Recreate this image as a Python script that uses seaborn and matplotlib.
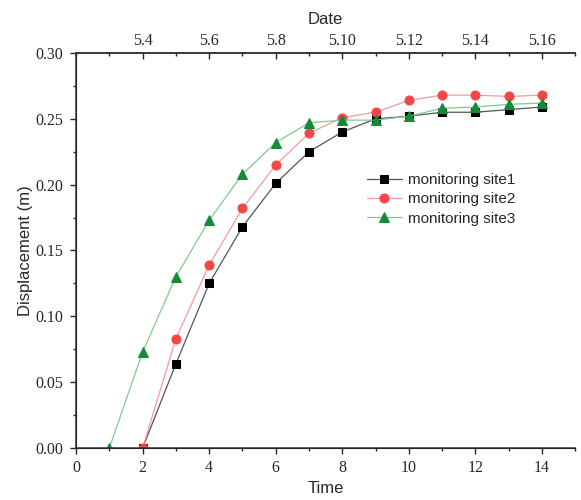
import matplotlib
matplotlib.use("Agg")
import matplotlib.pyplot as plt
import seaborn as sns
import pandas as pd
from matplotlib.ticker import MultipleLocator

# Data
time_site1 = [2, 3, 4, 5, 6, 7, 8, 9, 10, 11, 12, 13, 14]
disp_site1 = [0.000, 0.064, 0.125, 0.168, 0.201, 0.225, 0.240, 0.250, 0.252, 0.255, 0.255, 0.257, 0.259]

time_site2 = [2, 3, 4, 5, 6, 7, 8, 9, 10, 11, 12, 13, 14]
disp_site2 = [0.000, 0.083, 0.139, 0.182, 0.215, 0.239, 0.251, 0.255, 0.264, 0.268, 0.268, 0.267, 0.268]

time_site3 = [1, 2, 3, 4, 5, 6, 7, 8, 9, 10, 11, 12, 13, 14]
disp_site3 = [0.000, 0.073, 0.130, 0.173, 0.208, 0.232, 0.247, 0.249, 0.249, 0.252, 0.258, 0.259, 0.261, 0.262]

date_ticks = [2, 4, 6, 8, 10, 12, 14]
date_labels = ["5.4", "5.6", "5.8", "5.10", "5.12", "5.14", "5.16"]

sns.set_style("ticks")
serif = "Liberation Serif"
sans = "Liberation Sans"

fig = plt.figure(figsize=(5.81, 5.0), dpi=100)
ax = fig.add_axes([0.131, 0.104, 0.859, 0.790])

series = [
    ("monitoring site1", time_site1, disp_site1, "s", "#000000", "#555555", 5.5),
    ("monitoring site2", time_site2, disp_site2, "o", "#F04848", "#F59A9A", 6.5),
    ("monitoring site3", time_site3, disp_site3, "^", "#168A38", "#7FCB8E", 7),
]

for name, t, d, mk, mcol, lcol, ms in series:
    df = pd.DataFrame({"Time": t, "Displacement": d})
    sns.lineplot(data=df, x="Time", y="Displacement", ax=ax, color=lcol,
                 linewidth=0.9, marker=mk, markersize=ms, markerfacecolor=mcol,
                 markeredgecolor=mcol, label=name)

ax.set_xlim(0, 15)
ax.set_ylim(0, 0.30)
ax.xaxis.set_major_locator(MultipleLocator(2))
ax.xaxis.set_minor_locator(MultipleLocator(1))
ax.yaxis.set_major_locator(MultipleLocator(0.05))
ax.yaxis.set_minor_locator(MultipleLocator(0.025))
ax.set_yticklabels([f"{v:.2f}" for v in ax.get_yticks()])
ax.tick_params(which="major", direction="out", length=4, width=1, labelsize=11.5, pad=5)
ax.tick_params(which="minor", direction="out", length=2.5, width=1)
for lab in ax.get_xticklabels() + ax.get_yticklabels():
    lab.set_fontfamily(serif)

ax.spines["right"].set_visible(False)
for s in ["left", "bottom", "top"]:
    ax.spines[s].set_color("#333333")
    ax.spines[s].set_linewidth(1.1)

ax.set_xlabel("Time", fontsize=12, family=sans, labelpad=3)
ax.set_ylabel("Displacement (m)", fontsize=12, family=sans, labelpad=2)

top = ax.twiny()
top.set_xlim(ax.get_xlim())
top.set_xticks(date_ticks)
top.set_xticklabels(date_labels, family=serif, fontsize=11.5)
top.xaxis.set_minor_locator(MultipleLocator(1))
top.tick_params(which="major", direction="in", length=4, width=1, pad=3)
top.tick_params(which="minor", direction="in", length=2.5, width=1)
top.set_xlabel("Date", fontsize=12, family=sans, labelpad=6)
top.spines["right"].set_visible(False)
top.spines["top"].set_color("#333333")
top.spines["top"].set_linewidth(1.1)

ax.legend(loc="upper left", bbox_to_anchor=(0.570, 0.712), frameon=False,
          prop={"family": sans, "size": 11}, handlelength=2.3,
          handletextpad=0.4, labelspacing=0.35, borderaxespad=0)

fig.savefig("out.png", dpi=100)
